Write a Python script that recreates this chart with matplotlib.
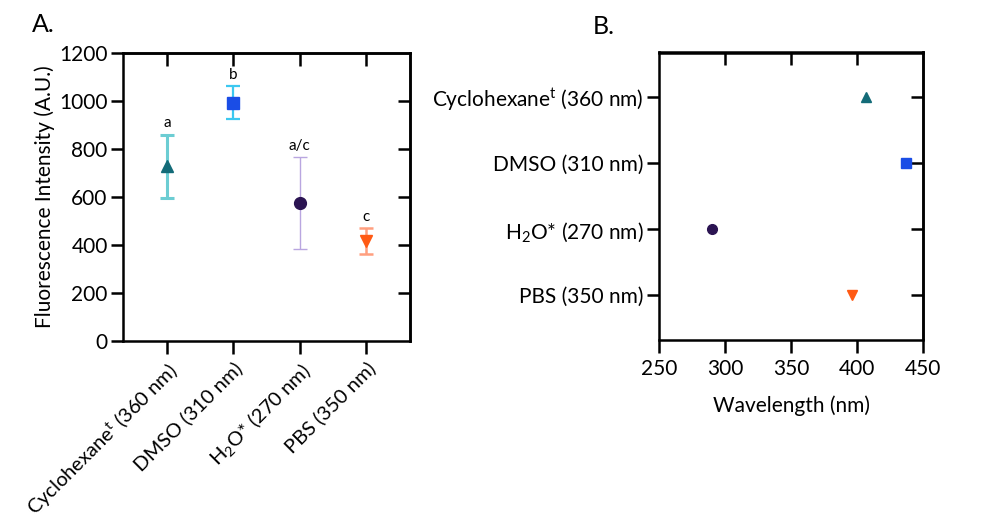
import numpy as np
import matplotlib
matplotlib.use('Agg')
import matplotlib.pyplot as plt

plt.rcParams['font.family'] = ['Lato', 'DejaVu Sans']
plt.rcParams['mathtext.default'] = 'regular'

# data
solvents = ['Cyclohexane$^{t}$ (360 nm)', 'DMSO (310 nm)', 'H$_{2}$O* (270 nm)', 'PBS (350 nm)']
intensity = [728, 993, 575, 417]
intensity_err = [132, 69, 192, 55]
sig_letters = ['a', 'b', 'a/c', 'c']
wavelength = [407, 437, 290, 396]

markers = ['^', 's', 'o', 'v']
marker_colors = ['#136b78', '#1a4de6', '#2b1452', '#ff5a14']
bar_colors = ['#6ccdd3', '#3cc8f0', '#b9a6e0', '#ff9f7f']
bar_widths = [2.2, 1.6, 1.0, 1.8]

fig = plt.figure(figsize=(9.88, 5.25), dpi=100)
axA = fig.add_axes([123 / 988, 1 - 341 / 525, 287 / 988, 288 / 525])
axB = fig.add_axes([659 / 988, 1 - 339.5 / 525, 264 / 988, 287 / 525])

lw = 1.8
tlen = 9
fs = 15
tick_kw = dict(length=tlen, width=lw, labelsize=fs, pad=2)

# panel A
xpos = np.arange(len(solvents))
for i in range(len(solvents)):
    axA.errorbar(xpos[i], intensity[i], yerr=intensity_err[i], fmt='none',
                 ecolor=bar_colors[i], elinewidth=bar_widths[i], capsize=5,
                 capthick=bar_widths[i], zorder=2)
    axA.plot(xpos[i], intensity[i], marker=markers[i], color=marker_colors[i],
             markersize=8.5, linestyle='none', zorder=3)
    axA.annotate(sig_letters[i], (xpos[i], intensity[i] + intensity_err[i]),
                 xytext=(0, 3), textcoords='offset points', ha='center',
                 va='bottom', fontsize=11)

axA.set_xlim(-0.66, 3.66)
axA.set_ylim(0, 1200)
axA.set_yticks(range(0, 1201, 200))
axA.set_xticks(xpos)
axA.set_xticklabels(solvents, rotation=45, ha='right', rotation_mode='anchor',
                    fontsize=14.5)
axA.set_ylabel('Fluorescence Intensity (A.U.)', fontsize=fs, labelpad=3)
axA.tick_params(direction='out', **tick_kw)
axA.tick_params(axis='x', pad=4, labelsize=14.5)
secA_y = axA.secondary_yaxis('right')
secA_y.set_yticks(range(200, 1200, 200))
secA_y.tick_params(direction='in', labelright=False, length=tlen, width=lw)
secA_x = axA.secondary_xaxis('top')
secA_x.set_xticks(xpos)
secA_x.tick_params(direction='in', labeltop=False, length=tlen, width=lw)
for ax in (secA_y, secA_x):
    for sp in ax.spines.values():
        sp.set_linewidth(lw)
for sp in axA.spines.values():
    sp.set_linewidth(lw)

# panel B
ypos = np.arange(len(solvents))[::-1]
for i in range(len(solvents)):
    axB.plot(wavelength[i], ypos[i], marker=markers[i], color=marker_colors[i],
             markersize=7, linestyle='none', clip_on=False, zorder=3)

axB.set_xlim(250, 450)
axB.set_ylim(-0.667, 3.667)
axB.set_xticks(range(250, 451, 50))
axB.set_yticks(ypos)
axB.set_yticklabels(solvents)
axB.set_xlabel('Wavelength (nm)', fontsize=fs, labelpad=12)
axB.tick_params(direction='out', **tick_kw)
axB.tick_params(axis='x', pad=5)
secB_y = axB.secondary_yaxis('right')
secB_y.set_yticks(ypos)
secB_y.tick_params(direction='in', labelright=False, length=tlen, width=lw)
secB_x = axB.secondary_xaxis('top')
secB_x.set_xticks([300, 350, 400])
secB_x.tick_params(direction='in', labeltop=False, length=tlen, width=lw)
for ax in (secB_y, secB_x):
    for sp in ax.spines.values():
        sp.set_linewidth(lw)
for sp in axB.spines.values():
    sp.set_linewidth(lw)

fig.text(32 / 988, 1 - 25 / 525, 'A.', fontsize=18, va='center', ha='left')
fig.text(593 / 988, 1 - 27 / 525, 'B.', fontsize=18, va='center', ha='left')

fig.savefig('out.png', dpi=100)
